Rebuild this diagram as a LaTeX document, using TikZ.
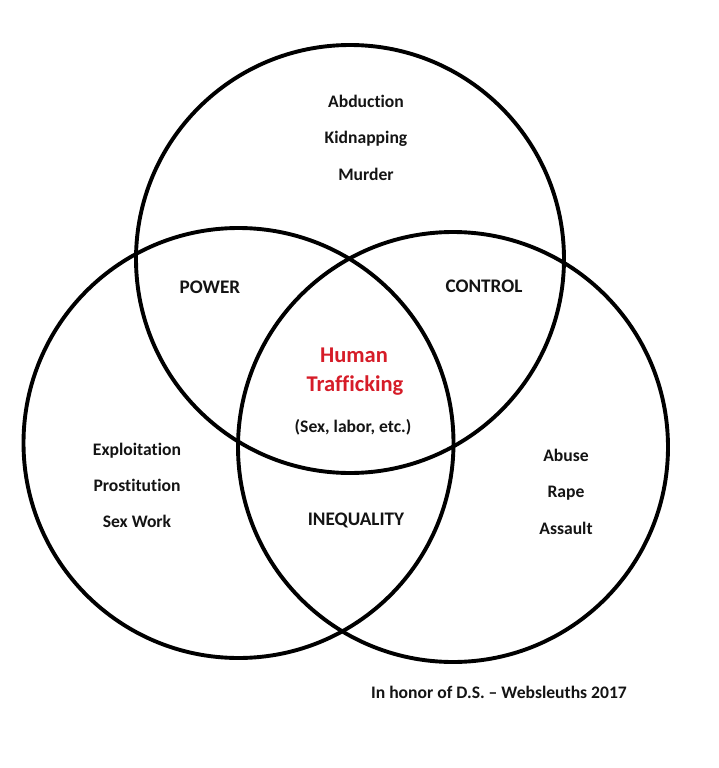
\documentclass[tikz,border=0pt]{standalone}
\usepackage{fontspec}
\setmainfont{Carlito}[Ligatures={NoCommon}]
\definecolor{htred}{RGB}{214,28,40}
\definecolor{txt}{RGB}{20,20,20}
\begin{document}
\begin{tikzpicture}[x=1pt,y=-1pt,
  ring/.style={draw=black,line width=3.9pt},
  lbl/.style={font=\bfseries\fontsize{17.6}{20}\selectfont,text=txt,inner sep=0pt,anchor=base},
  caps/.style={lbl,font=\bfseries\fontsize{19.2}{22}\selectfont},
  big/.style={font=\bfseries\fontsize{22.5}{26}\selectfont,text=htred,inner sep=0pt,anchor=base}]
\useasboundingbox (0,0) rectangle (719,768);
\fill[white] (0,0) rectangle (719,768);
\node[ring,circle,minimum size=428pt,inner sep=0pt] (top) at (350,259) {};
\node[ring,circle,minimum size=430pt,inner sep=0pt] (left) at (238.5,443) {};
\node[ring,circle,minimum size=430pt,inner sep=0pt] (right) at (453,447) {};
\node[lbl] (t1) at (366,107) {Abduction};
\node[lbl] (t2) at (366,143) {Kidnapping};
\node[lbl] (t3) at (366,180) {Murder};
\node[caps] (pw) at (210,293.5) {POWER};
\node[caps] (ct) at (484,292.5) {CONTROL};
\node[big] (h1) at (354,362) {Human};
\node[big] (h2) at (355,391) {Trafficking};
\node[lbl] (h3) at (353,432) {(Sex, labor, etc.)};
\node[lbl] (l1) at (137,455) {Exploitation};
\node[lbl] (l2) at (137,491) {Prostitution};
\node[lbl] (l3) at (137,527) {Sex Work};
\node[caps] (iq) at (356,525.5) {INEQUALITY};
\node[lbl] (r1) at (566,461) {Abuse};
\node[lbl] (r2) at (566,497) {Rape};
\node[lbl] (r3) at (566,534) {Assault};
\node[lbl] (hon) at (499,698) {In honor of D.S. – Websleuths 2017};
\end{tikzpicture}
\end{document}
